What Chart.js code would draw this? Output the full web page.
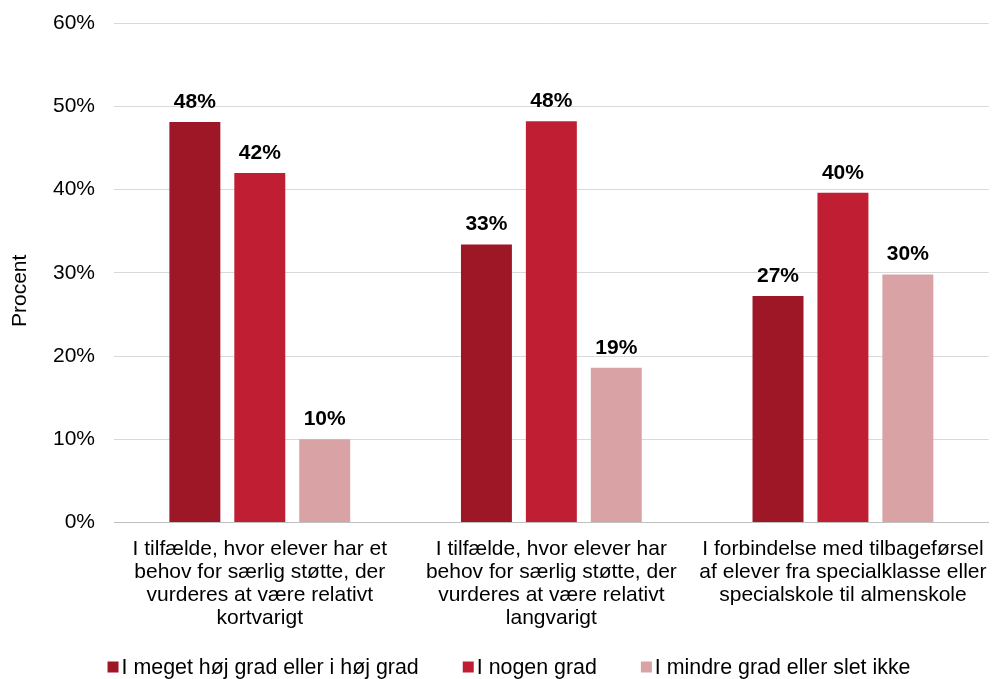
<!DOCTYPE html>
<html>
<head>
<meta charset="utf-8">
<script src="https://cdn.jsdelivr.net/npm/chart.js@4.4.1/dist/chart.umd.min.js"></script>
<style>
  html, body { margin: 0; padding: 0; background: #fff; }
</style>
</head>
<body>
<canvas id="chart" width="994" height="679"></canvas>
<script>
var categories = [
  ["I tilfælde, hvor elever har et", "behov for særlig støtte, der", "vurderes at være relativt", "kortvarigt"],
  ["I tilfælde, hvor elever har", "behov for særlig støtte, der", "vurderes at være relativt", "langvarigt"],
  ["I forbindelse med tilbageførsel", "af elever fra specialklasse eller", "specialskole til almenskole"]
];
var seriesNames = ["I meget høj grad eller i høj grad", "I nogen grad", "I mindre grad eller slet ikke"];
var hoejGrad = [48.1, 33.4, 27.2];
var nogenGrad = [42.0, 48.2, 39.6];
var mindreGrad = [10.0, 18.6, 29.8];
var colors = ["#9e1726", "#c01f33", "#d9a3a6"];
var yTitle = "Procent";

var FONT = "'Liberation Sans', Arial, sans-serif";

// draws the bold percentage above each bar
var valueLabels = {
  id: "valueLabels",
  afterDatasetsDraw: function (chart) {
    var ctx = chart.ctx;
    ctx.save();
    ctx.font = "bold 21px " + FONT;
    ctx.fillStyle = "#000";
    ctx.textAlign = "center";
    ctx.textBaseline = "alphabetic";
    chart.data.datasets.forEach(function (ds, i) {
      chart.getDatasetMeta(i).data.forEach(function (bar, j) {
        ctx.fillText(Math.round(ds.data[j]) + "%", bar.x, bar.y - 14);
      });
    });
    ctx.restore();
  }
};

// rotated axis title, sitting a bit below the middle of the axis
var axisTitle = {
  id: "axisTitle",
  afterDraw: function (chart) {
    var ctx = chart.ctx;
    var area = chart.chartArea;
    ctx.save();
    ctx.translate(20, (area.top + area.bottom) / 2 + 18);
    ctx.rotate(-Math.PI / 2);
    ctx.font = "21px " + FONT;
    ctx.fillStyle = "#000";
    ctx.textAlign = "center";
    ctx.textBaseline = "middle";
    ctx.fillText(yTitle, 0, 0);
    ctx.restore();
  }
};

// simple legend row at the bottom, small squares tight to the text
var bottomLegend = {
  id: "bottomLegend",
  afterDraw: function (chart) {
    var ctx = chart.ctx;
    var box = 11, gap = 3, spacing = 44;
    ctx.save();
    ctx.font = "21.4px " + FONT;
    ctx.textBaseline = "middle";
    var widths = chart.data.datasets.map(function (ds) {
      return box + gap + ctx.measureText(ds.label).width;
    });
    var total = widths.reduce(function (a, b) { return a + b; }, 0) + spacing * (widths.length - 1);
    var x = chart.width / 2 + 12 - total / 2;
    var y = 667;
    chart.data.datasets.forEach(function (ds, i) {
      ctx.fillStyle = ds.backgroundColor;
      ctx.fillRect(x, y - box / 2, box, box);
      ctx.fillStyle = "#000";
      ctx.textAlign = "left";
      ctx.fillText(ds.label, x + box + gap, y + 1);
      x += widths[i] + spacing;
    });
    ctx.restore();
  }
};

var ctx = document.getElementById("chart").getContext("2d");
var datasets = [hoejGrad, nogenGrad, mindreGrad].map(function (d, i) {
  return {
    label: seriesNames[i],
    data: d,
    backgroundColor: colors[i],
    barPercentage: 0.785,
    categoryPercentage: 0.668
  };
});

new Chart(ctx, {
  type: "bar",
  data: { labels: categories, datasets: datasets },
  plugins: [valueLabels, axisTitle, bottomLegend],
  options: {
    responsive: false,
    animation: false,
    layout: { padding: { top: 23, right: 3, left: 33, bottom: 42 } },
    plugins: {
      tooltip: { enabled: false },
      legend: { display: false }
    },
    scales: {
      x: {
        grid: { display: false },
        border: { color: "#bfbfbf" },
        ticks: {
          color: "#000",
          maxRotation: 0,
          padding: 7,
          font: { size: 21, family: FONT, lineHeight: 1.1 }
        }
      },
      y: {
        min: 0,
        max: 60,
        border: { display: false },
        grid: { color: "#d9d9d9", drawTicks: false },
        afterFit: function (scale) {
          scale.width = 81;
          scale.paddingTop = 0;
          scale.paddingBottom = 0;
        },
        ticks: {
          stepSize: 10,
          padding: 19,
          color: "#000",
          font: { size: 21, family: FONT },
          callback: function (v) { return v + "%"; }
        }
      }
    }
  }
});
</script>
</body>
</html>
